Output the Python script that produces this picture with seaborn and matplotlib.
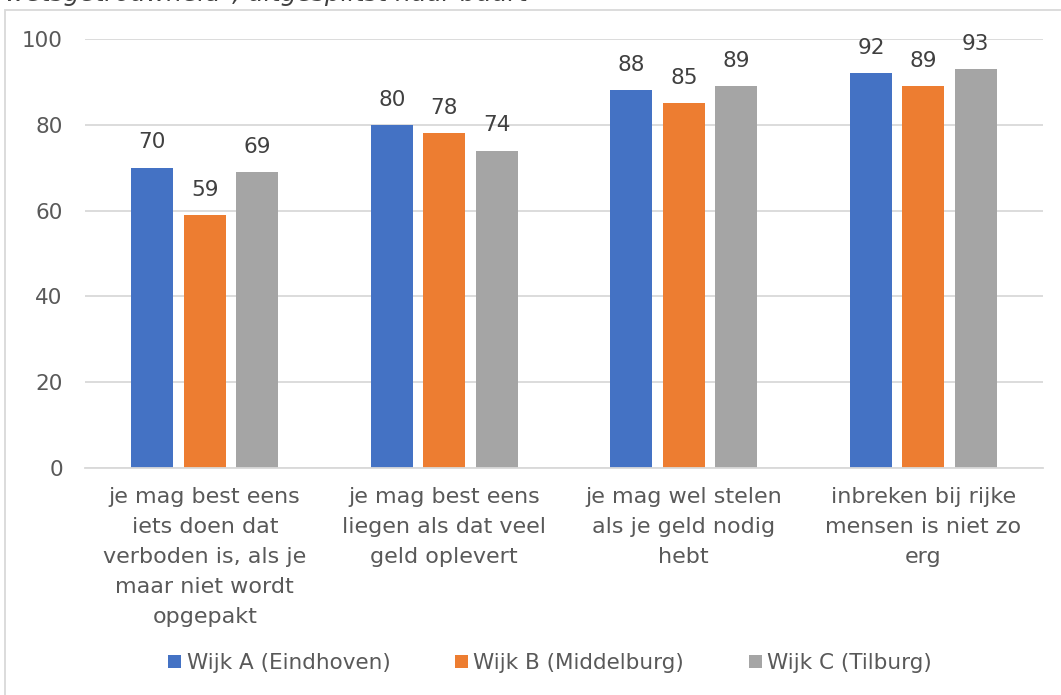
import matplotlib
matplotlib.use("Agg")
import matplotlib.pyplot as plt
import seaborn as sns
import pandas as pd
from matplotlib.patches import Rectangle

categories = [
    "je mag best eens\niets doen dat\nverboden is, als je\nmaar niet wordt\nopgepakt",
    "je mag best eens\nliegen als dat veel\ngeld oplevert",
    "je mag wel stelen\nals je geld nodig\nhebt",
    "inbreken bij rijke\nmensen is niet zo\nerg",
]
series = ["Wijk A (Eindhoven)", "Wijk B (Middelburg)", "Wijk C (Tilburg)"]
wijk_a = [70, 80, 88, 92]
wijk_b = [59, 78, 85, 89]
wijk_c = [69, 74, 89, 93]
colors = ["#4472C4", "#ED7D31", "#A5A5A5"]
yticks = [0, 20, 40, 60, 80, 100]

rows = []
for s, vals in zip(series, [wijk_a, wijk_b, wijk_c]):
    for c, v in zip(categories, vals):
        rows.append({"cat": c, "serie": s, "val": v})
df = pd.DataFrame(rows)

sns.set_theme(style="white")
plt.rcParams["font.family"] = ["DejaVu Sans"]
txt = "#595959"

fig = plt.figure(figsize=(10.61, 6.95), dpi=100)
ax = fig.add_axes([85 / 1061, 1 - 468 / 695, (1043 - 85) / 1061, (468 - 39) / 695])

sns.barplot(data=df, x="cat", y="val", hue="serie", palette=colors,
            width=0.656, gap=0.2, ax=ax, saturation=1, legend=True,
            linewidth=0)

ax.set_ylim(0, 100)
ax.set_xlim(-0.5, 3.5)
ax.set_yticks(yticks)
ax.set_yticklabels([str(t) for t in yticks], color=txt, fontsize=15.5)
ax.yaxis.grid(True, color="#D9D9D9", linewidth=1.3)
ax.set_axisbelow(True)
for sp in ["top", "right", "left"]:
    ax.spines[sp].set_visible(False)
ax.spines["bottom"].set_color("#D9D9D9")
ax.spines["bottom"].set_linewidth(1.3)
ax.tick_params(axis="y", length=0, pad=16)
ax.tick_params(axis="x", length=0, pad=14)
ax.set_xlabel("")
ax.set_ylabel("")
for lab in ax.get_xticklabels():
    lab.set_color(txt)
    lab.set_fontsize(16)
    lab.set_linespacing(1.62)

for cont in ax.containers:
    ax.bar_label(cont, padding=11, color="#404040", fontsize=15.5)

handles, labels = ax.get_legend_handles_labels()
ax.legend(handles, labels, loc="center", bbox_to_anchor=(550 / 1061, 1 - 663 / 695),
          bbox_transform=fig.transFigure, ncol=3, frameon=False, fontsize=15.5,
          handlelength=0.6, handleheight=0.6, handletextpad=0.25, columnspacing=3.0,
          labelcolor=txt)

fig.patches.append(Rectangle((5 / 1061, -0.1), 1.2, 1 - 10 / 695 + 0.1,
                             transform=fig.transFigure, fill=False,
                             edgecolor="#D9D9D9", linewidth=1.3))
fig.text(5 / 1061, 1 - 1 / 695, "wetsgetrouwheid\", uitgesplitst naar buurt",
         fontsize=18, style="italic", color="#404040", va="baseline", ha="left")

fig.savefig("out.png", dpi=100)
